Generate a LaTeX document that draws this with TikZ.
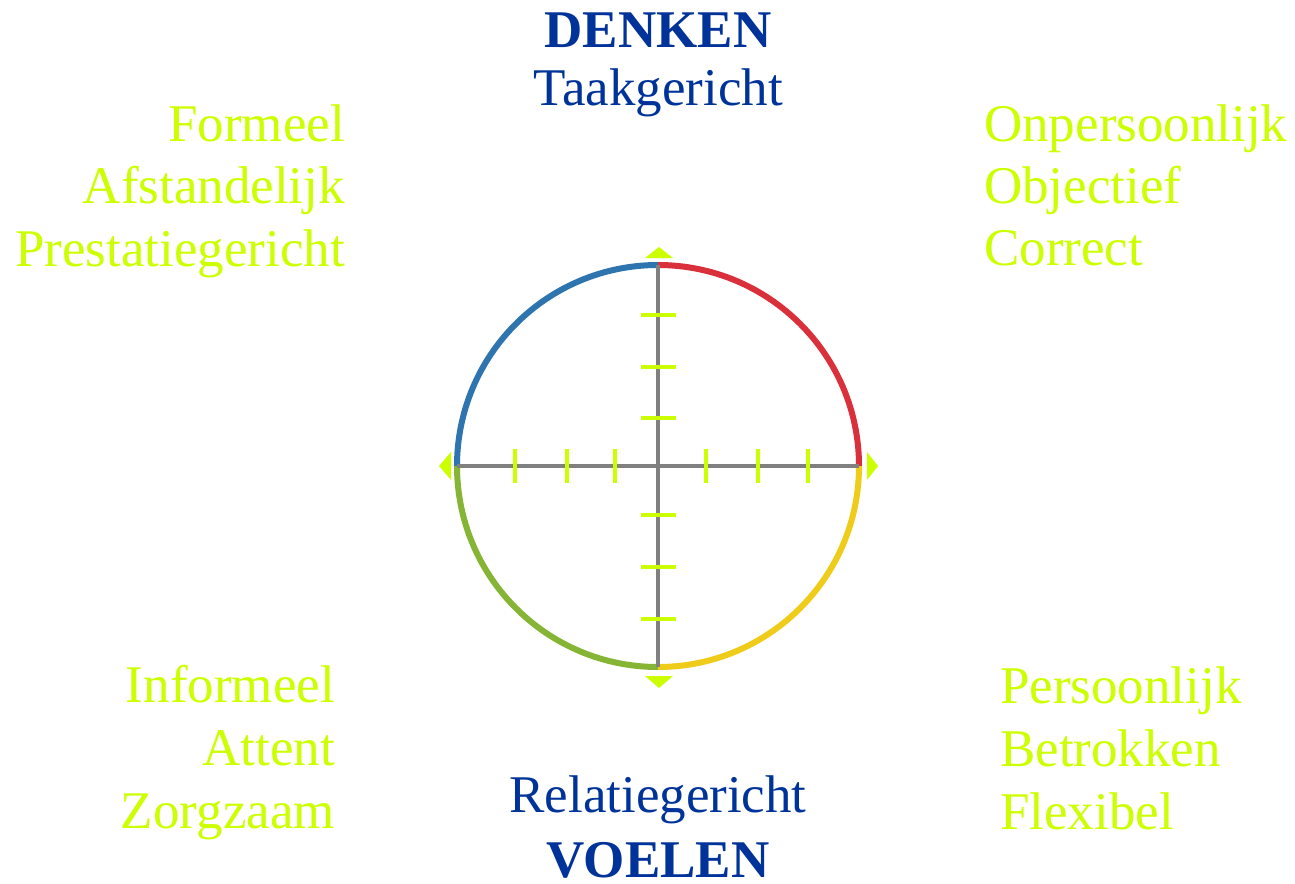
\documentclass[tikz,border=0pt]{standalone}
\usepackage{fontspec}
\setmainfont{Liberation Serif}
\definecolor{txtblue}{HTML}{003399}
\definecolor{lime}{HTML}{CCFF00}
\definecolor{arcblue}{HTML}{2E74AE}
\definecolor{arcred}{HTML}{D9303B}
\definecolor{arcyellow}{HTML}{F0CC1A}
\definecolor{arcgreen}{HTML}{86B535}
\definecolor{axisgray}{HTML}{808080}
\begin{document}
\begin{tikzpicture}[x=1pt,y=-1pt,
  lbl/.style={inner sep=0pt,text=lime,font=\fontsize{53}{60}\selectfont},
  head/.style={inner sep=0pt,text=txtblue,font=\fontsize{53}{60}\selectfont\bfseries},
  sub/.style={inner sep=0pt,text=txtblue,font=\fontsize{53}{60}\selectfont},
  arcline/.style={line width=6pt},
  axisline/.style={draw=axisgray,line width=4pt},
  tickline/.style={draw=lime,line width=3.5pt},
  tri/.style={fill=lime,draw=none}]
\fill[white] (0,0) rectangle (1295,883);
\useasboundingbox (0,0) rectangle (1295,883);
\coordinate (C) at (658,466);
\coordinate (L) at (457,466);
\coordinate (R) at (859,466);
\coordinate (T) at (658,265);
\coordinate (B) at (658,667);
% arcs
\draw[arcline,arcblue] (L) arc[start angle=180,end angle=270,radius=201];
\draw[arcline,arcred] (T) arc[start angle=270,end angle=360,radius=201];
\draw[arcline,arcyellow] (R) arc[start angle=0,end angle=90,radius=201];
\draw[arcline,arcgreen] (B) arc[start angle=90,end angle=180,radius=201];
% axes
\draw[axisline] (L) -- (R);
\draw[axisline] (T) -- (B);
% ticks
\foreach \x in {515,567,615,706,758,808} \draw[tickline] (\x,449) -- (\x,483);
\foreach \y in {315,367,418,515,567,619} \draw[tickline] (641,\y) -- (676,\y);
% triangles
\fill[tri] (645,258) -- (673,258) -- (659,247) -- cycle;
\fill[tri] (645,676) -- (673,676) -- (659,688) -- cycle;
\fill[tri] (451,452) -- (451,480) -- (439,466) -- cycle;
\fill[tri] (867,452) -- (867,480) -- (878,466) -- cycle;
% headings
\node[head,anchor=base] (denken) at (658,48) {DENKEN};
\node[sub,anchor=base] (taak) at (658,105) {Taakgericht};
\node[sub,anchor=base] (rel) at (658,812) {Relatiegericht};
\node[head,anchor=base] (voelen) at (658,877) {VOELEN};
% top left
\node[lbl,anchor=base east] (tl1) at (345,141) {Formeel};
\node[lbl,anchor=base east] (tl2) at (345,203) {Afstandelijk};
\node[lbl,anchor=base east] (tl3) at (345,266) {Prestatiegericht};
% top right
\node[lbl,anchor=base west] (tr1) at (984,141) {Onpersoonlijk};
\node[lbl,anchor=base west] (tr2) at (984,203) {Objectief};
\node[lbl,anchor=base west] (tr3) at (984,265) {Correct};
% bottom left
\node[lbl,anchor=base east] (bl1) at (335,702) {Informeel};
\node[lbl,anchor=base east] (bl2) at (335,765) {Attent};
\node[lbl,anchor=base east] (bl3) at (335,828) {Zorgzaam};
% bottom right
\node[lbl,anchor=base west] (br1) at (1000,703) {Persoonlijk};
\node[lbl,anchor=base west] (br2) at (1000,766) {Betrokken};
\node[lbl,anchor=base west] (br3) at (1000,829) {Flexibel};
\end{tikzpicture}
\end{document}
